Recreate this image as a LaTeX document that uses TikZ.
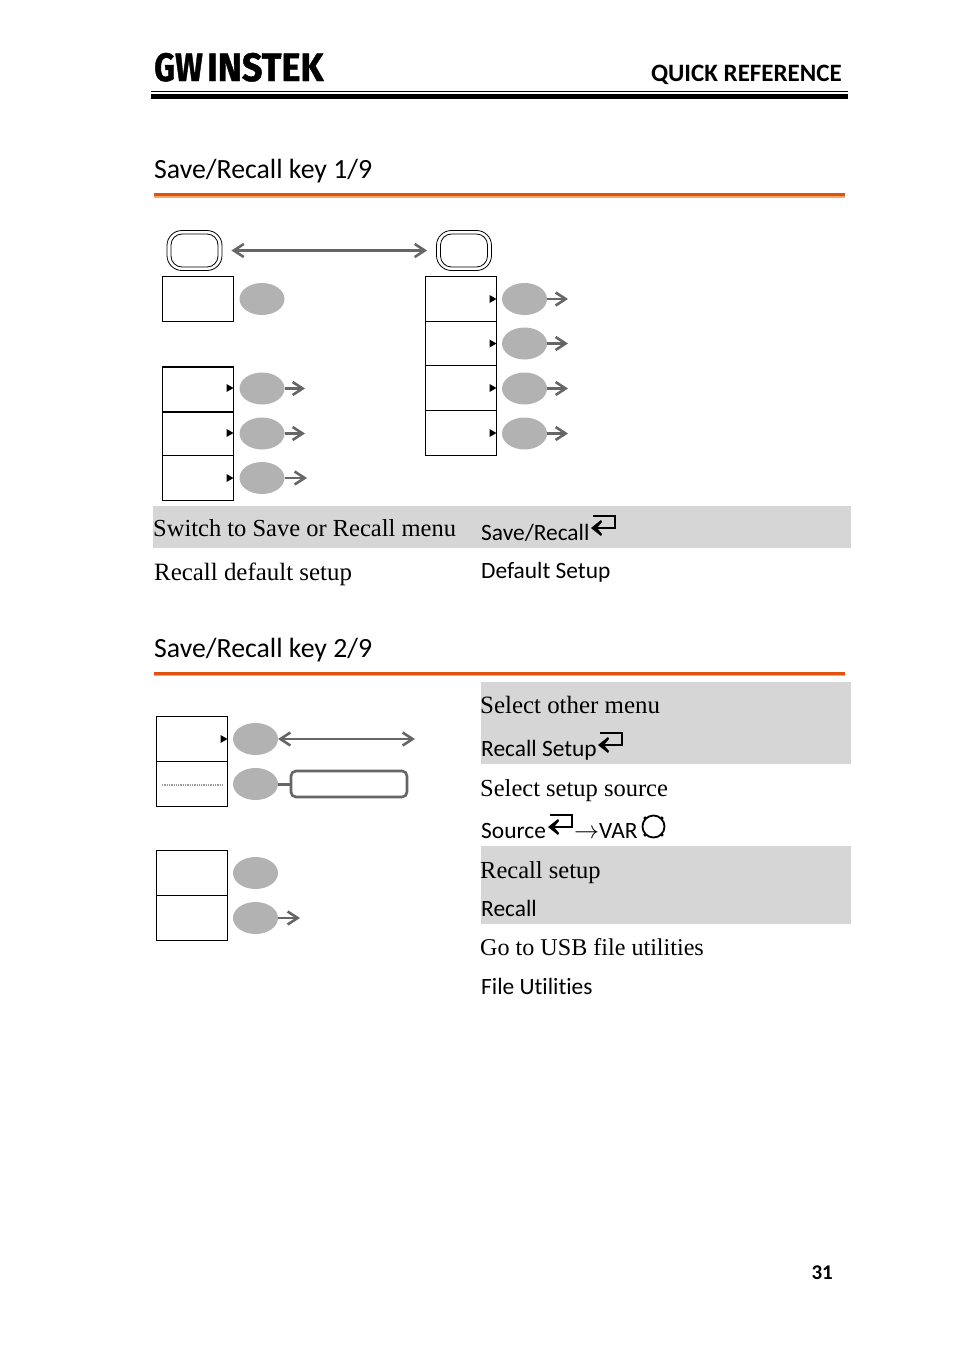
\documentclass[tikz,border=0pt]{standalone}
\usepackage{fontspec}
\setmainfont{Liberation Serif}
\newfontfamily\hsans[Ligatures=NoCommon]{Carlito}
\newfontfamily\hlogo[FakeBold=1.2]{Fira Sans Bold}
\usetikzlibrary{arrows.meta,shapes.geometric}
\definecolor{ruleA}{RGB}{226,82,14}
\definecolor{ruleB}{RGB}{250,170,100}
\tikzset{
 x=1pt,y=-1pt,
 softbox/.style={draw=black,line width=1.2pt,minimum width=71pt,minimum height=45pt,inner sep=0pt,outer sep=0pt,fill=white},
 oval/.style={ellipse,fill=black!30,minimum width=45pt,minimum height=32pt,inner sep=0pt,outer sep=0pt},
 keyouter/.style={draw=black,line width=.8pt,rounded corners=15pt,minimum width=55pt,minimum height=40pt,inner sep=0pt},
 keyinner/.style={draw=black,line width=.8pt,rounded corners=11pt,minimum width=47pt,minimum height=33pt,inner sep=0pt},
 link/.style={draw=black!60,line width=2.6pt},
 oneway/.style={link,-{Straight Barb[length=10pt,width=13pt,line width=2.6pt]}},
 twoway/.style={link,{Straight Barb[length=10pt,width=13pt,line width=2.6pt]}-{Straight Barb[length=10pt,width=13pt,line width=2.6pt]}},
 serif/.style={anchor=base west,inner sep=0pt,font=\fontsize{24.5}{28}\selectfont},
 sans/.style={anchor=base west,inner sep=0pt,font=\hsans\fontsize{23.4}{28}\selectfont},
 title/.style={anchor=base west,inner sep=0pt,font=\hsans\fontsize{27.8}{34}\selectfont},
 band/.style={fill=black!16,draw=none,inner sep=0pt,outer sep=0pt,anchor=north west},
 enterkey/.style={draw=black,line width=2.3pt},
}
\newcommand{\softmark}[2]{\fill[black] ([shift={(-7,#2-4)}]#1.east) -- ([shift={(0,#2)}]#1.east) -- ([shift={(-7,#2+4)}]#1.east) -- cycle;}
\newcommand{\enterat}[1]{\draw[enterkey] ([shift={(2,-7)}]#1) -- ([shift={(24,-7)}]#1) -- ([shift={(24,5)}]#1) -- ([shift={(5,5)}]#1);
 \fill[black] ([shift={(0,5)}]#1) -- ([shift={(10,-3)}]#1) -- ([shift={(11,-1)}]#1) -- ([shift={(6,5)}]#1) -- ([shift={(11,11)}]#1) -- ([shift={(10,13)}]#1) -- cycle;}
\begin{document}
\begin{tikzpicture}
\useasboundingbox (0,0) rectangle (954,1349);
% header
\node[anchor=base west,inner sep=0pt,font=\hlogo\fontsize{37}{40}\selectfont] (logo) at (154,81) {\scalebox{.88}[1.07]{GW}};
\node[anchor=base west,inner sep=0pt,font=\hlogo\fontsize{37}{40}\selectfont] (logob) at (207,81) {\scalebox{.98}[1.07]{INSTEK}};
\node[anchor=base east,inner sep=0pt,font=\hsans\bfseries\fontsize{25}{28}\selectfont] (qr) at (842,81) {QUICK REFERENCE};
\fill[black] (151,91) rectangle (848,92.2);
\fill[black] (151,94) rectangle (848,99);
% title 1
\node[title] (t1) at (154,178) {Save/Recall key 1/9};
\fill[ruleA] (154,193) rectangle (845,196);
\fill[ruleB] (154,196) rectangle (845,197.5);
% title 2
\node[title] (t2) at (154,657) {Save/Recall key 2/9};
\fill[ruleA] (154,671.5) rectangle (845,674.5);
\fill[ruleB] (154,674.5) rectangle (845,676);
% bands
\node[band,minimum width=698pt,minimum height=42pt] (b1) at (153,506) {};
\node[band,minimum width=370pt,minimum height=82pt] (b2) at (481,682) {};
\node[band,minimum width=370pt,minimum height=78pt] (b3) at (481,846) {};
% keys
\node[keyouter] (k1) at (194.5,250.5) {};
\node[keyinner] at (k1.center) (k1i) {};
\node[keyouter] (k2) at (464,250.5) {};
\node[keyinner] at (k2.center) (k2i) {};
\draw[twoway] (k1.east) ++(9,0) coordinate (k1e) -- ([xshift=-9]k2.west);
% section 1 left
\node[softbox,minimum height=45pt] (a1) at (198,299) {};
\node[oval] (oa1) at (262,299) {};
\foreach \n/\y/\h/\d in {a2/389.5/45/-1.5,a3/434/43/-1,a4/478/45/0}{
 \node[softbox,minimum height=\h pt] (\n) at (198,\y) {};
 \softmark{\n}{\d}
}
\node[oval] (oa2) at (262,388.5) {};
\node[oval] (oa3) at (262,433.5) {};
\node[oval] (oa4) at (262,478) {};
\coordinate (ea2) at (305,388.5);
\coordinate (ea3) at (305,433.5);
\coordinate (ea4) at (307,478);
\draw[oneway] (oa2) -- (ea2);
\draw[oneway] (oa3) -- (ea3);
\draw[oneway] (oa4) -- (ea4);
% section 1 right
\foreach \n/\y/\h in {c1/299/45,c2/343.5/44,c3/388/45,c4/433/45}{
 \node[softbox,minimum height=\h pt] (\n) at (461,\y) {};
 \softmark{\n}{0}
}
\foreach \n/\y in {1/299,2/343.5,3/388.5,4/433.5}{
 \node[oval] (oc\n) at (524.5,\y) {};
 \coordinate (ec\n) at (568,\y);
 \draw[oneway] (oc\n) -- (ec\n);
}
% texts 1
\node[serif] (s1) at (153,536) {Switch to Save or Recall menu};
\node[sans] (s2) at (481,540) {Save/Recall};
\coordinate (en1) at (591,523); \enterat{en1}
\node[serif,font=\fontsize{24.9}{28}\selectfont] (s3) at (154,580) {Recall default setup};
\node[sans] (s4) at (481,578) {Default Setup};
% section 2
\node[softbox] (d1) at (192,739) {};
\softmark{d1}{0}
\node[softbox] (d2) at (192,784) {};
\coordinate (dl) at (162,785); \coordinate (dr) at (222,785);
\draw[black!40,line width=1.3pt,dash pattern=on 1.3pt off 1pt] (dl) -- (dr);
\node[oval] (od1) at (255.5,739) {};
\node[oval] (od2) at (255.5,784) {};
\coordinate (ed1) at (415,739);
\draw[twoway] (od1) -- (ed1);
\node[draw=black!60,line width=2.6pt,rounded corners=5pt,minimum width=116pt,minimum height=26pt,inner sep=0pt,outer sep=0pt] (dbox) at (349,784) {};
\draw[link,line width=3pt] (od2) -- (dbox);
\node[softbox] (f1) at (192,873) {};
\node[softbox] (f2) at (192,918) {};
\node[oval] (of1) at (255.5,873) {};
\node[oval] (of2) at (255.5,918) {};
\coordinate (ef2) at (300,918);
\draw[oneway] (of2) -- (ef2);
% texts 2
\node[serif,font=\fontsize{24.9}{28}\selectfont] (u1) at (480,713) {Select other menu};
\node[sans] (u2) at (481,756) {Recall Setup};
\coordinate (en2) at (598,740); \enterat{en2}
\node[serif] (u3) at (480,796) {Select setup source};
\node[sans] (u4) at (481,838) {Source};
\coordinate (en3) at (548,822); \enterat{en3}
\node[anchor=base west,inner sep=0pt,font=\hsans\fontsize{23.4}{28}\selectfont] (u5) at (574,838) {$\rightarrow$VAR};
\node[circle,draw=black,line width=1.8pt,minimum size=22pt,inner sep=0pt] (knob) at (653.5,826.5) {};
\foreach \a in {45,135,225,315}{\fill[black] (knob.\a) circle (1.8pt);}
\node[serif] (u6) at (480,878.5) {Recall setup};
\node[sans] (u7) at (481,916) {Recall};
\node[serif,font=\fontsize{24.1}{28}\selectfont] (u8) at (480,955) {Go to USB file utilities};
\node[sans] (u9) at (481,994) {File Utilities};
\node[anchor=base east,inner sep=0pt,font=\hsans\bfseries\fontsize{21}{24}\selectfont] (pg) at (833,1279) {31};
\end{tikzpicture}
\end{document}
